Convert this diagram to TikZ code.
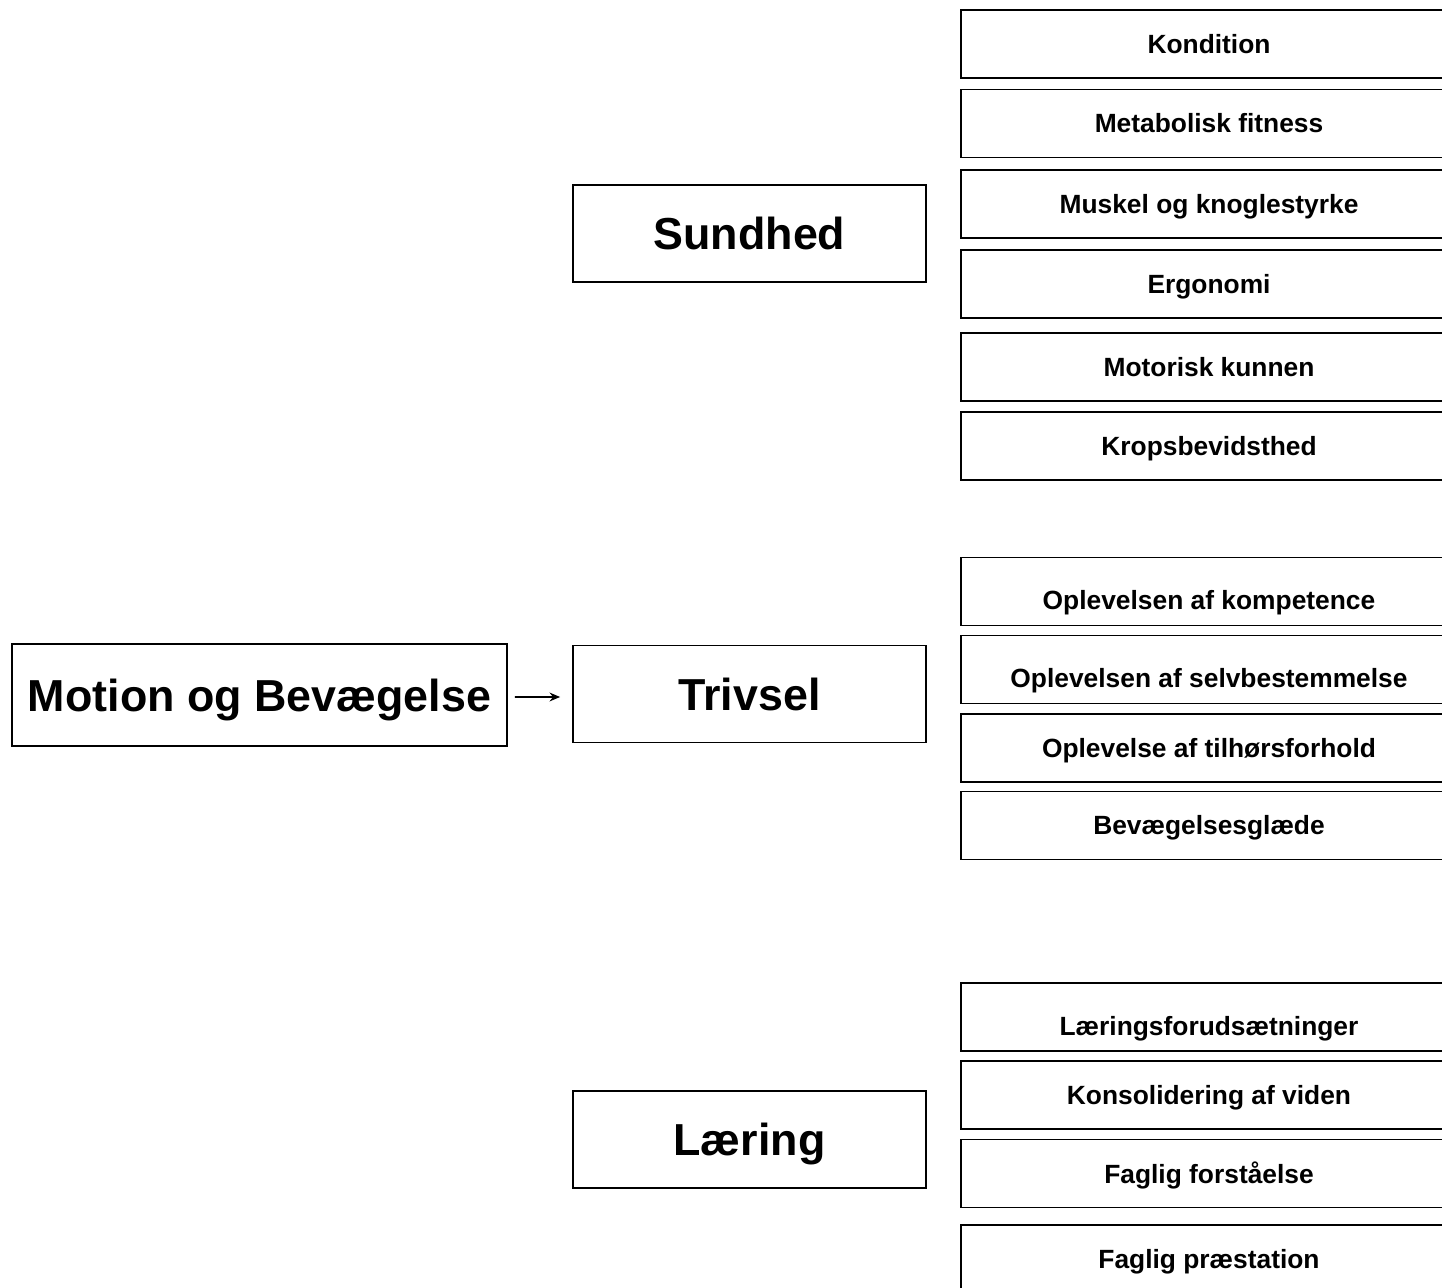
\documentclass[tikz,border=0pt]{standalone}
\usepackage{fontspec}
\setmainfont{Liberation Sans}
\usetikzlibrary{arrows.meta}

\begin{document}
\begin{tikzpicture}[>={Stealth[length=6pt, width=5pt]},
    bigfont/.style={font=\bfseries\fontsize{25.5}{30}\selectfont,
                    text height=18.3pt, text depth=0pt},
    mainbox/.style={draw, line width=1pt, bigfont,
                    minimum width=9.9cm, minimum height=2.04cm, inner sep=0pt},
    topicbox/.style={draw, line width=1pt, bigfont,
                     minimum width=7.06cm, minimum height=1.94cm, inner sep=0pt},
    itembox/.style={draw, line width=1pt,
                    font=\bfseries\fontsize{15}{18}\selectfont,
                    text height=10.8pt, text depth=0pt,
                    minimum width=9.92cm, minimum height=1.36cm, inner sep=0pt},
    lowtext/.style={text height=21pt}]

  \useasboundingbox (0,0) rectangle (28.84,-25.76);

  % === Main box ===
  \node[mainbox] (motion) at (5.19,-13.90) {Motion og Bevægelse};

  % === Topics ===
  \node[topicbox] (sundhed) at (14.99,-4.67)  {Sundhed};
  \node[topicbox] (trivsel) at (14.99,-13.88) {Trivsel};
  \node[topicbox] (laering) at (14.99,-22.79) {Læring};

  \draw[->, line width=1pt, shorten <=0.14cm, shorten >=0.24cm]
    ([yshift=-0.04cm]motion.east) -- ([yshift=-0.06cm]trivsel.west);

  % === Sundhed items ===
  \node[itembox] (kondition)  at (24.18,-0.88) {Kondition};
  \node[itembox] (metabolisk) at (24.18,-2.47) {Metabolisk fitness};
  \node[itembox] (muskel)     at (24.18,-4.08) {Muskel og knoglestyrke};
  \node[itembox] (ergonomi)   at (24.18,-5.68) {Ergonomi};
  \node[itembox] (motorisk)   at (24.18,-7.34) {Motorisk kunnen};
  \node[itembox] (krop)       at (24.18,-8.92) {Kropsbevidsthed};

  % === Trivsel items ===
  \node[itembox, lowtext] (kompetence) at (24.18,-11.83) {Oplevelsen af kompetence};
  \node[itembox, lowtext] (selvbest)   at (24.18,-13.39) {Oplevelsen af selvbestemmelse};
  \node[itembox] (tilhoer)   at (24.18,-14.96) {Oplevelse af tilhørsforhold};
  \node[itembox] (glaede)    at (24.18,-16.51) {Bevægelsesglæde};

  % === Læring items ===
  \node[itembox, lowtext] (forudsaet) at (24.18,-20.34) {Læringsforudsætninger};
  \node[itembox] (konsolid)   at (24.18,-21.90) {Konsolidering af viden};
  \node[itembox] (forstaaelse) at (24.18,-23.47) {Faglig forståelse};
  \node[itembox] (praestation) at (24.18,-25.18) {Faglig præstation};

\end{tikzpicture}
\end{document}
